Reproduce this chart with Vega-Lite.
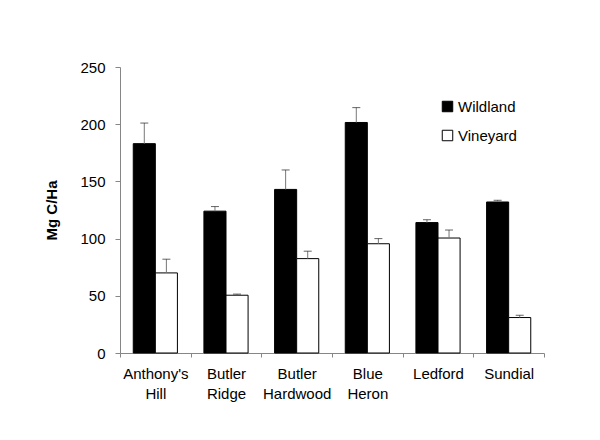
{
  "$schema": "https://vega.github.io/schema/vega-lite/v6.json",
  "width": 424,
  "height": 286,
  "autosize": {"type": "none"},
  "padding": {"left": 120, "top": 67, "right": 56, "bottom": 87},
  "background": "white",
  "config": {
    "view": {"stroke": null},
    "font": "Liberation Sans",
    "axis": {"grid": false, "domainColor": "#868686", "tickColor": "#868686", "labelColor": "#000", "titleColor": "#000"}
  },
  "data": {
    "values": [
      {"site": "Anthony's Hill", "series": "Wildland", "value": 183, "upper": 201},
      {"site": "Anthony's Hill", "series": "Vineyard", "value": 70, "upper": 82},
      {"site": "Butler Ridge", "series": "Wildland", "value": 124, "upper": 128},
      {"site": "Butler Ridge", "series": "Vineyard", "value": 50.5, "upper": 51.5},
      {"site": "Butler Hardwood", "series": "Wildland", "value": 143, "upper": 160},
      {"site": "Butler Hardwood", "series": "Vineyard", "value": 82.5, "upper": 89},
      {"site": "Blue Heron", "series": "Wildland", "value": 201.5, "upper": 214.5},
      {"site": "Blue Heron", "series": "Vineyard", "value": 95.5, "upper": 100},
      {"site": "Ledford", "series": "Wildland", "value": 114, "upper": 116.5},
      {"site": "Ledford", "series": "Vineyard", "value": 100.5, "upper": 107.5},
      {"site": "Sundial", "series": "Wildland", "value": 132, "upper": 133.5},
      {"site": "Sundial", "series": "Vineyard", "value": 31, "upper": 33}
    ]
  },
  "encoding": {
    "x": {
      "field": "site", "type": "nominal", "sort": null,
      "scale": {"paddingInner": 0, "paddingOuter": 0},
      "axis": {
        "title": null, "labelAngle": 0, "labelFontSize": 15,
        "labelExpr": "split(datum.label, ' ')", "labelLineHeight": 20,
        "tickBand": "extent", "tickSize": 4, "labelPadding": 9
      }
    },
    "xOffset": {
      "field": "series", "type": "nominal",
      "sort": ["Wildland", "Vineyard"],
      "scale": {"domain": ["Wildland", "Vineyard"], "paddingInner": 0, "paddingOuter": 0.6}
    }
  },
  "layer": [
    {
      "mark": {"type": "bar", "stroke": "#000", "strokeWidth": 1},
      "encoding": {
        "y": {
          "field": "value", "type": "quantitative",
          "scale": {"domain": [0, 250], "nice": false},
          "axis": {
            "title": "Mg C/Ha", "titleFontSize": 15, "titleFontWeight": "bold",
            "titlePadding": 20, "values": [0, 50, 100, 150, 200, 250],
            "labelFontSize": 15, "tickSize": 5, "labelPadding": 10
          }
        },
        "color": {
          "field": "series", "type": "nominal",
          "scale": {"domain": ["Wildland", "Vineyard"], "range": ["#000000", "#ffffff"]},
          "legend": {
            "title": null, "orient": "none", "legendX": 320, "legendY": 32,
            "symbolType": "square", "symbolSize": 110, "symbolStrokeColor": "#000",
            "symbolStrokeWidth": 1, "labelFontSize": 15, "rowPadding": 13,
            "labelOffset": 3, "labelColor": "#000"
          }
        }
      }
    },
    {
      "mark": {"type": "rule", "color": "#777", "strokeWidth": 1},
      "encoding": {
        "y": {"field": "value", "type": "quantitative"},
        "y2": {"field": "upper"}
      }
    },
    {
      "mark": {"type": "tick", "color": "#222", "size": 8, "thickness": 1},
      "encoding": {
        "y": {"field": "upper", "type": "quantitative"}
      }
    }
  ]
}
